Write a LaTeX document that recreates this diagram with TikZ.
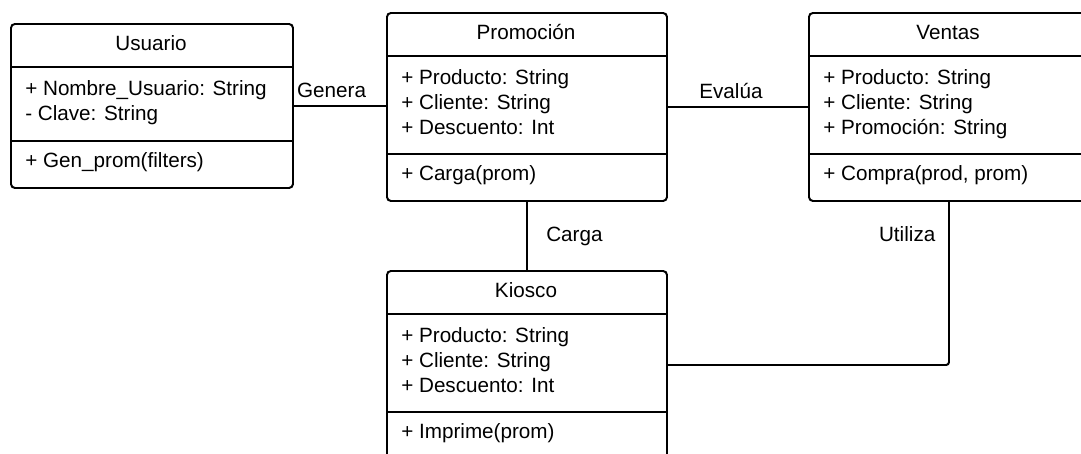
\documentclass[tikz,border=0pt]{standalone}
\usepackage{fontspec}
\setmainfont{Liberation Sans}
\usetikzlibrary{positioning}
\tikzset{
  umlbox/.style={draw, line width=1.4pt, rounded corners=2.8pt, inner sep=0pt},
  umltext/.style={inner sep=0pt, font=\fontsize{14.7}{17.8}\selectfont},
  assoc/.style={line width=1.4pt}
}
% #1 name, #2 left, #3 top, #4 width, #5 attribute height, #6 title, #7 attributes, #8 methods
\newcommand{\umlclass}[8]{%
  \node[umlbox, anchor=north west, minimum width={#4*0.025cm},
        minimum height={(44+#5+46)*0.025cm}] (#1) at (#2,#3) {};
  \draw[line width=1.4pt] (#2,{#3+44}) -- ({#2+#4},{#3+44});
  \draw[line width=1.4pt] (#2,{#3+44+#5}) -- ({#2+#4},{#3+44+#5});
  \node[umltext] (#1-title) at ({#2+#4/2},{#3+20}) {#6};
  \node[umltext, anchor=north west, align=left] (#1-attr) at ({#2+15},{#3+44+13}) {#7};
  \node[umltext, anchor=north west, align=left] (#1-meth) at ({#2+15},{#3+44+#5+11}) {#8};
}

\begin{document}
\begin{tikzpicture}[x={(0.025cm,0)}, y={(0,-0.025cm)}]
  \useasboundingbox (0,0) rectangle (1081,454);
  \clip (0,0) rectangle (1081,454);
  \fill[white] (0,0) rectangle (1081,454);

  \umlclass{usuario}{10}{23}{282}{74}{Usuario}%
    {+ Nombre\_Usuario: String\\- Clave: String}{+ Gen\_prom(filters)}
  \umlclass{promo}{386}{12}{280}{98}{Promoción}%
    {+ Producto: String\\+ Cliente: String\\+ Descuento: Int}{+ Carga(prom)}
  \umlclass{ventas}{808}{12}{280}{98}{Ventas}%
    {+ Producto: String\\+ Cliente: String\\+ Promoción: String}{+ Compra(prod, prom)}
  \umlclass{kiosco}{386}{270}{280}{98}{Kiosco}%
    {+ Producto: String\\+ Cliente: String\\+ Descuento: Int}{+ Imprime(prom)}

  % associations
  \draw[assoc] (usuario.east) -- (usuario.east -| promo.west)
    node[umltext, midway, above=5pt, xshift=-6] {Genera};
  \draw[assoc] (promo.east) -- (promo.east -| ventas.west)
    node[umltext, midway, above=5pt, xshift=-5] {Evalúa};
  \draw[assoc] (promo.south) -- (kiosco.north)
    node[umltext, midway, right=13pt] {Carga};
  \draw[assoc, rounded corners=2pt] (ventas.south) |- (kiosco.east)
    node[umltext, pos=0.1, left=9pt] {Utiliza};
\end{tikzpicture}
\end{document}
